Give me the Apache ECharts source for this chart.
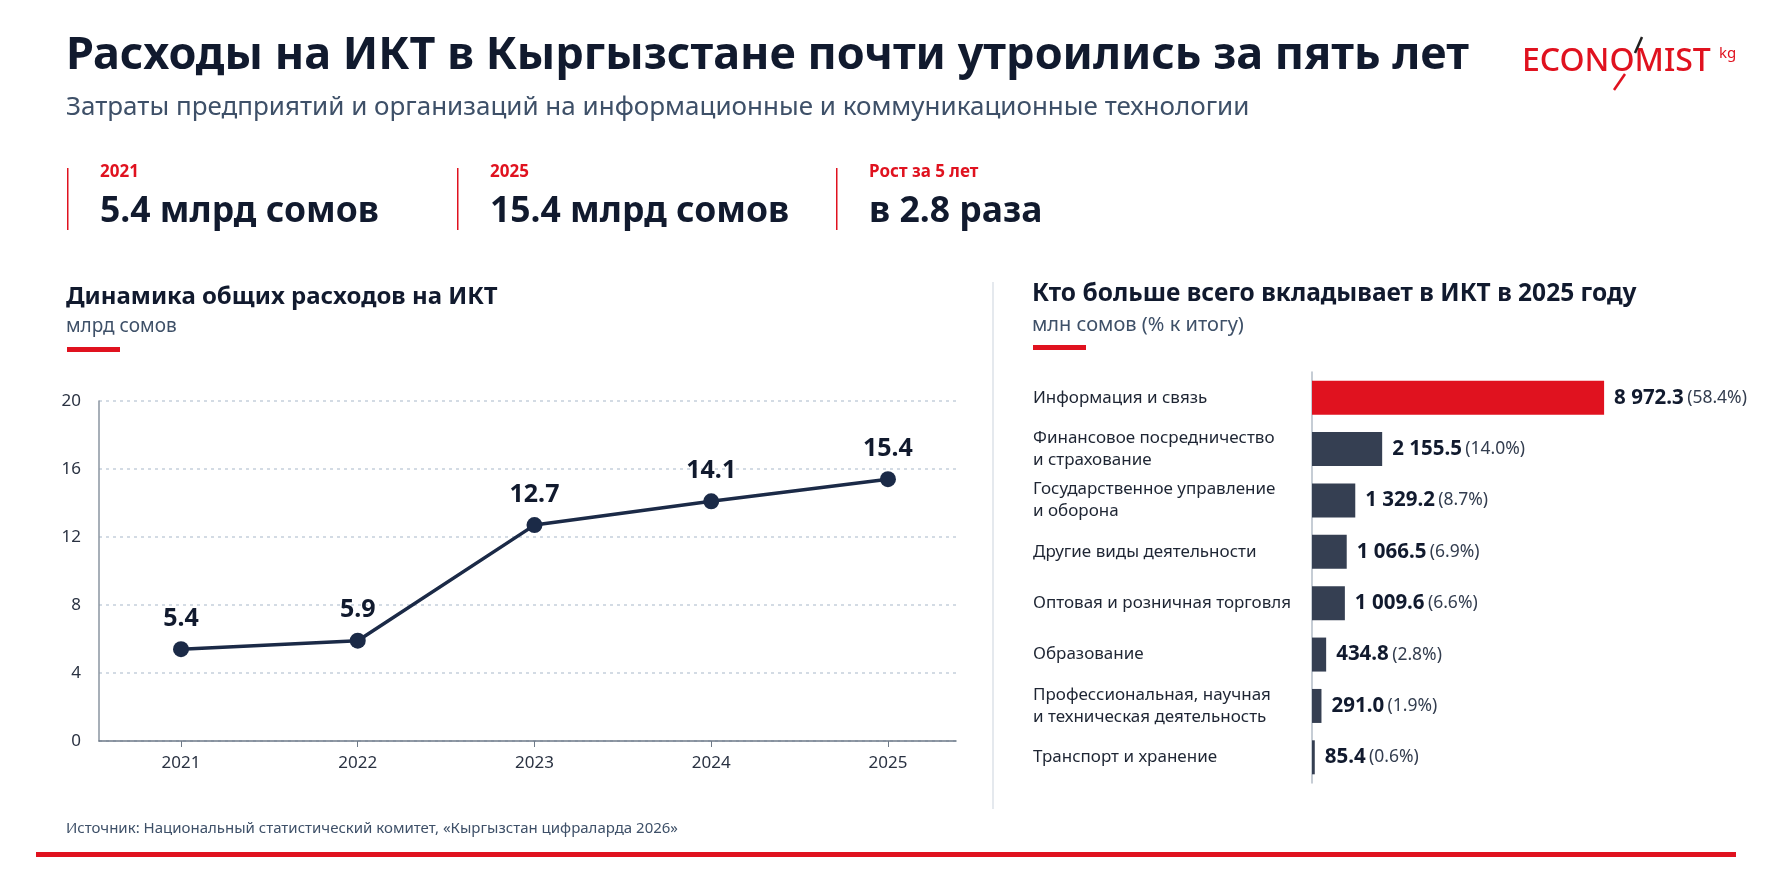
<!DOCTYPE html>
<html><head><meta charset="utf-8">
<script src="https://cdn.jsdelivr.net/npm/echarts@6/dist/echarts.min.js"></script>
<style>html,body{margin:0;padding:0;background:#fff}#c{width:1774px;height:887px}</style>
</head><body><div id="c"></div>
<script>
const years = [2021, 2022, 2023, 2024, 2025];
const totals = [5.4, 5.9, 12.7, 14.1, 15.4];
const sectors = [
  'Информация и связь',
  'Финансовое посредничество\nи страхование',
  'Государственное управление\nи оборона',
  'Другие виды деятельности',
  'Оптовая и розничная торговля',
  'Образование',
  'Профессиональная, научная\nи техническая деятельность',
  'Транспорт и хранение'
];
const sectorValues = [8972.3, 2155.5, 1329.2, 1066.5, 1009.6, 434.8, 291.0, 85.4];
const sectorShares = [58.4, 14.0, 8.7, 6.9, 6.6, 2.8, 1.9, 0.6];
const kpis = [
  { label: '2021', value: '5.4 млрд сомов' },
  { label: '2025', value: '15.4 млрд сомов' },
  { label: 'Рост за 5 лет', value: 'в 2.8 раза' }
];

const F = '"Noto Sans", "Open Sans", sans-serif';
const DARK = '#111a2e';
const NAVY = '#1b2a47';
const RED = '#e0121f';
const SLATE = '#3e5068';

function fmt(v) {
  const parts = v.toFixed(1).split('.');
  parts[0] = parts[0].replace(/\B(?=(\d{3})+(?!\d))/g, ' ');
  return parts.join('.');
}

const chart = echarts.init(document.getElementById('c'));
const kpiX = [67, 457, 836];
const graphics = [
  { type: 'text', left: 66, top: 34, style: { text: 'Расходы на ИКТ в Кыргызстане почти утроились за пять лет', font: 'bold 45px ' + F, fill: DARK } },
  { type: 'text', left: 66, top: 95, style: { text: 'Затраты предприятий и организаций на информационные и коммуникационные технологии', font: '26px ' + F, fill: SLATE } },
  { type: 'text', left: 1522, top: 46, style: { text: 'ECONOMIST', font: '500 32px ' + F, fill: RED } },
  { type: 'text', left: 1719, top: 46, style: { text: 'kg', font: '15px ' + F, fill: RED } },
  { type: 'line', shape: { x1: 1642, y1: 37, x2: 1635, y2: 53 }, style: { stroke: '#222', lineWidth: 2.5 } },
  { type: 'line', shape: { x1: 1625, y1: 74, x2: 1614, y2: 90 }, style: { stroke: RED, lineWidth: 2.5 } },
  { type: 'text', left: 66, top: 285, style: { text: 'Динамика общих расходов на ИКТ', font: 'bold 24px ' + F, fill: DARK } },
  { type: 'text', left: 66, top: 317, style: { text: 'млрд сомов', font: '19px ' + F, fill: SLATE } },
  { type: 'rect', shape: { x: 67, y: 347, width: 53, height: 5 }, style: { fill: RED } },
  { type: 'text', left: 1032, top: 282, style: { text: 'Кто больше всего вкладывает в ИКТ в 2025 году', font: 'bold 24.5px ' + F, fill: DARK } },
  { type: 'text', left: 1032, top: 315, style: { text: 'млн сомов (% к итогу)', font: '20px ' + F, fill: SLATE } },
  { type: 'rect', shape: { x: 1033, y: 345, width: 53, height: 5 }, style: { fill: RED } },
  { type: 'line', shape: { x1: 993, y1: 282, x2: 993, y2: 809 }, style: { stroke: '#dde2e8', lineWidth: 1.5 } },
  { type: 'text', left: 66, top: 821, style: { text: 'Источник: Национальный статистический комитет, «Кыргызстан цифраларда 2026»', font: '15px ' + F, fill: SLATE } },
  { type: 'rect', shape: { x: 36, y: 852, width: 1700, height: 5 }, style: { fill: RED } }
];
kpis.forEach((k, i) => {
  graphics.push({ type: 'rect', shape: { x: kpiX[i], y: 168, width: 1.5, height: 62 }, style: { fill: RED } });
  graphics.push({ type: 'text', left: kpiX[i] + 33, top: 164, style: { text: k.label, font: 'bold 17px ' + F, fill: RED } });
  graphics.push({ type: 'text', left: kpiX[i] + 33, top: 194, style: { text: k.value, font: 'bold 35.5px ' + F, fill: DARK } });
});

chart.setOption({
  animation: false,
  backgroundColor: '#ffffff',
  graphic: graphics,
  grid: [
    { left: 99, top: 401, width: 857, height: 340 },
    { left: 1312, top: 372, width: 293, height: 411 }
  ],
  xAxis: [
    {
      gridIndex: 0, type: 'value', min: 2020.536, max: 2025.385,
      splitLine: { show: false },
      axisLine: { lineStyle: { color: '#6e7a88', width: 1.5 } },
      axisTick: { show: true, customValues: years, length: 6, lineStyle: { color: '#6e7a88' } },
      axisLabel: { customValues: years, formatter: v => String(v), color: '#2a3242', fontSize: 17, fontFamily: F, margin: 14 }
    },
    {
      gridIndex: 1, type: 'value', min: 0, max: 9000, show: false,
      splitLine: { show: false }
    }
  ],
  yAxis: [
    {
      gridIndex: 0, type: 'value', min: 0, max: 20, interval: 4,
      axisLine: { show: true, lineStyle: { color: '#8a94a1', width: 1.5 } },
      axisTick: { show: false },
      axisLabel: { color: '#2a3242', fontSize: 17, fontFamily: F, margin: 18 },
      splitLine: { lineStyle: { color: '#c5d0db', type: [3, 4], width: 1.5 } }
    },
    {
      gridIndex: 1, type: 'category', data: sectors, inverse: true,
      axisLine: { show: true, lineStyle: { color: '#b3bcc7', width: 1.5 } },
      axisTick: { show: false },
      axisLabel: { align: 'left', margin: 279, color: '#1e2533', fontSize: 17, fontFamily: F, lineHeight: 22 }
    }
  ],
  series: [
    {
      type: 'line', xAxisIndex: 0, yAxisIndex: 0,
      data: years.map((y, i) => [y, totals[i]]),
      lineStyle: { color: NAVY, width: 3.5 },
      itemStyle: { color: NAVY },
      symbol: 'circle', symbolSize: 16,
      label: { show: true, position: 'top', distance: 10, color: DARK, fontSize: 25, fontWeight: 'bold', fontFamily: F, formatter: p => p.value[1].toFixed(1) }
    },
    {
      type: 'bar', xAxisIndex: 1, yAxisIndex: 1, barWidth: 34,
      data: sectorValues.map((v, i) => ({ value: v, itemStyle: { color: i === 0 ? RED : '#353f52' } })),
      label: {
        show: true, position: 'right', distance: 10,
        formatter: p => '{v|' + fmt(p.value) + '} {p|(' + sectorShares[p.dataIndex].toFixed(1) + '%)}',
        rich: {
          v: { fontSize: 20.5, fontWeight: 'bold', color: DARK, fontFamily: F },
          p: { fontSize: 17.5, color: '#333d4f', fontFamily: F }
        }
      }
    }
  ]
});
</script></body></html>
